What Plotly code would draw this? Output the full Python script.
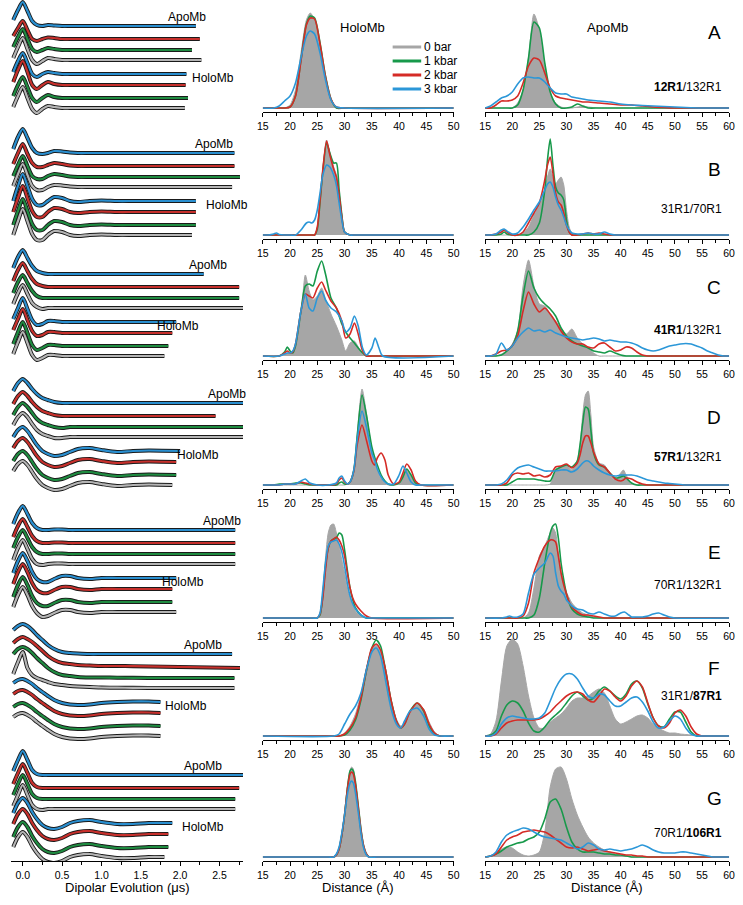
import numpy as np
import plotly.graph_objects as go

W, H = 743, 905
FONT = "Arial, Liberation Sans, sans-serif"

# ---------------- colours / labels ----------------
pressures = ["0 bar", "1 kbar", "2 kbar", "3 kbar"]
row_letters = ["A", "B", "C", "D", "E", "F", "G"]
pair_labels = ["<b>12R1</b>/132R1", "31R1/70R1", "<b>41R1</b>/132R1", "<b>57R1</b>/132R1",
               "70R1/132R1", "31R1/<b>87R1</b>", "70R1/<b>106R1</b>"]

# ---------------- HoloMb distance distributions (middle column) ----------------
holo_A_r = [15, 17, 18, 19, 20, 21, 22, 23, 23.7, 24.5, 25.5, 26.5, 27.5, 28.5, 30, 50]
holo_A_0 = [0, 0, 0, 0, 3, 18, 55, 88, 95, 88, 62, 30, 8, 0, 0, 0]
holo_A_1 = [0, 0, 0, 0, 1, 12, 48, 84, 92, 90, 65, 32, 9, 0, 0, 0]
holo_A_2 = [0, 0, 0, 0, 1, 12, 47, 83, 90, 89, 64, 31, 9, 1, 0, 0]
holo_A_3 = [0, 0, 2, 7, 12, 25, 50, 72, 77, 74, 55, 28, 8, 1, 0, 0]

holo_B_r = [15, 16, 17, 17.5, 18, 19, 20, 21, 22, 23, 23.5, 24, 24.5, 25, 25.5, 26, 26.7, 27.3, 28, 28.5, 29, 29.5, 30, 31, 32, 50]
holo_B_0 = [0] * 13 + [8, 35, 65, 95, 82, 68, 60, 40, 20, 3] + [0, 0, 0]
holo_B_1 = [0] * 13 + [6, 33, 63, 92, 82, 72, 72, 45, 20, 3] + [0, 0, 0]
holo_B_2 = [0] * 13 + [8, 35, 65, 94, 80, 66, 58, 40, 18, 3] + [0, 0, 0]
holo_B_3 = [0, 0, 1, 2, 0.5, 0, 0, 0, 5, 12, 13, 12, 15, 25, 42, 60, 70, 68, 60, 50, 32, 15, 3, 0, 0, 0]

holo_C_r = [15, 18, 19, 19.5, 20, 20.5, 21, 22, 22.8, 23.5, 24.2, 25, 25.8, 26.5, 27.5, 28.5, 29.5, 30.2, 31, 31.8, 32.5, 33.3, 34, 35, 35.6, 36.3, 37, 50]
holo_C_0 = [0, 0, 1, 3, 3, 5, 10, 40, 81, 65, 56, 60, 68, 57, 42, 30, 16, 5, 13, 15, 9, 2, 0, 0, 0, 0, 0, 0]
holo_C_1 = [0, 0, 4, 9, 5, 3, 10, 45, 70, 72, 70, 85, 95, 82, 58, 48, 32, 24, 18, 13, 8, 3, 0, 0, 0, 0, 0, 0]
holo_C_2 = [0, 0, 3, 5, 3, 4, 12, 45, 62, 60, 58, 68, 74, 66, 55, 48, 35, 18, 22, 33, 22, 5, 0, 0, 0, 0, 0, 0]
holo_C_3 = [0, 0, 2, 3, 3, 5, 12, 45, 62, 48, 45, 58, 65, 56, 48, 44, 35, 24, 28, 40, 30, 8, 1, 8, 18, 8, 0, 0]

holo_D_r = [15, 17, 18, 19, 20, 21, 22, 22.8, 23.6, 25, 27, 28.5, 29, 29.5, 30, 30.5, 31, 31.7, 32.3, 33.2, 34, 35, 35.5, 36, 36.7, 37.4, 38, 39, 40, 40.7, 41.4, 42.2, 43, 44, 50]
holo_D_0 = [0, 0, 0, 0, 0, 0, 0, 0, 0, 0, 0, 0, 0, 0, 0, 1, 3, 15, 50, 96, 72, 35, 25, 15, 6, 2, 0, 0, 3, 10, 16, 9, 2, 0, 0]
holo_D_1 = [0, 0, 1, 1, 1, 2, 2, 1, 0, 0, 0, 0, 2, 3, 1, 1, 3, 15, 48, 90, 70, 38, 28, 20, 10, 4, 1, 0, 2, 8, 16, 10, 2, 0, 0]
holo_D_2 = [0, 0, 0, 1, 1, 1, 3, 2, 1, 0, 0, 1, 5, 7, 3, 1, 3, 14, 40, 60, 45, 24, 20, 27, 32, 25, 10, 1, 3, 12, 21, 15, 4, 0, 0]
holo_D_3 = [0, 0, 0, 1, 1, 1, 4, 6, 2, 0, 0, 2, 7, 9, 4, 1, 3, 15, 45, 74, 58, 32, 25, 16, 8, 3, 1, 1, 10, 19, 12, 3, 0, 0, 0]

holo_E_r = [15, 24, 25, 25.5, 26, 26.5, 27, 27.5, 28, 28.5, 29, 29.5, 30, 30.5, 31, 31.5, 32, 33, 34, 35, 50]
holo_E_0 = [0, 0, 0, 5, 25, 60, 85, 93, 94, 85, 72, 58, 45, 30, 20, 12, 7, 2, 0, 0, 0]
holo_E_1 = [0, 0, 0, 3, 22, 52, 70, 77, 79, 80, 85, 83, 68, 48, 30, 18, 10, 3, 0, 0, 0]
holo_E_2 = [0, 0, 0, 4, 20, 48, 70, 77, 79, 81, 78, 72, 62, 45, 30, 20, 14, 7, 2, 0, 0]
holo_E_3 = [0, 0, 0, 5, 28, 55, 72, 76, 77, 78, 74, 66, 52, 35, 22, 14, 9, 3, 0, 0, 0]

holo_F_r = [15, 28, 29, 30, 31, 32, 33, 34, 35, 35.8, 36.6, 37.5, 38.5, 39.5, 40.3, 41, 42, 43.3, 44.5, 45.5, 46.5, 47.5, 50]
holo_F_0 = [0, 0, 0, 3, 10, 22, 42, 68, 86, 91, 85, 68, 38, 17, 10, 12, 22, 32, 27, 14, 4, 0, 0]
holo_F_1 = [0, 0, 0, 1, 6, 16, 36, 65, 88, 96, 90, 66, 36, 15, 8, 12, 25, 33, 25, 10, 2, 0, 0]
holo_F_2 = [0, 0, 0, 2, 8, 18, 38, 66, 88, 92, 86, 66, 36, 15, 8, 12, 24, 33, 26, 12, 3, 0, 0]
holo_F_3 = [0, 0, 2, 12, 22, 30, 43, 66, 84, 88, 80, 56, 28, 12, 8, 15, 25, 28, 20, 7, 1, 0, 0]

holo_G_r = [15, 27, 28, 28.5, 29, 29.5, 30, 30.5, 31, 31.3, 31.6, 32, 32.5, 33, 33.5, 34, 34.5, 36, 50]
holo_G_0 = [0, 0, 0, 3, 10, 25, 45, 70, 87, 90, 88, 75, 50, 25, 10, 3, 0, 0, 0]
holo_G_1 = [0, 0, 0, 2, 8, 22, 42, 68, 86, 88, 86, 75, 52, 28, 11, 3, 0, 0, 0]
holo_G_2 = [0, 0, 0, 2, 8, 22, 42, 67, 83, 85, 83, 72, 50, 27, 11, 3, 0, 0, 0]
holo_G_3 = [0, 0, 0, 3, 10, 24, 42, 62, 74, 76, 74, 64, 45, 24, 9, 2, 0, 0, 0]

# ---------------- ApoMb distance distributions (right column) ----------------
apo_A_r = list(range(15, 35)) + [36, 38, 40, 42, 44, 46, 48, 50, 52, 55, 60]
apo_A_0 = [0, 0, 0, 0, 0, 0, 5, 18, 50, 94, 78, 40, 15, 5, 1, 0, 0, 1, 2, 1] + [0] * 11
apo_A_1 = [0, 0, 0, 0, 0, 0, 3, 18, 50, 86, 80, 45, 16, 4, 0, 0, 1, 4, 2, 0] + [0] * 11
apo_A_2 = [0, 0, 3, 7, 7, 8, 12, 25, 42, 50, 48, 35, 20, 12, 10, 9, 8, 7, 6, 6] + [5, 4, 3, 3, 2, 1, 0.5, 0, 0, 0, 0]
apo_A_3 = [0, 2, 6, 10, 12, 16, 24, 30, 31, 30, 30, 26, 20, 15, 14, 14, 11, 10, 9, 8] + [7, 6, 4, 3, 2.5, 2, 1.5, 1, 0.5, 0, 0]

apo_B_r = [15, 16, 17, 18, 18.5, 19, 20, 21, 22, 23, 24, 25, 26, 26.5, 27, 27.5, 28, 28.5, 29, 29.5, 30, 30.5, 31, 32, 33, 34, 35, 36, 37, 38, 39, 40, 60]
apo_B_0 = [0, 0, 0, 0, 0, 0, 0, 0, 2, 8, 20, 30, 45, 58, 66, 58, 51, 55, 58, 50, 25, 8, 2, 0, 0, 0, 0, 0, 0, 0, 0, 0, 0]
apo_B_1 = [0, 0, 0, 1, 3, 1, 0, 0, 0, 0, 3, 12, 45, 75, 96, 70, 48, 42, 40, 35, 15, 3, 0, 0, 0, 0, 0, 0, 0, 0, 0, 0, 0]
apo_B_2 = [0, 0, 1, 3, 5, 3, 0, 0, 3, 12, 22, 32, 55, 70, 78, 62, 42, 33, 30, 22, 10, 3, 0, 0, 1, 2, 1, 2, 1, 0, 0, 0, 0]
apo_B_3 = [0, 0, 1, 5, 6, 4, 1, 2, 8, 16, 25, 33, 45, 51, 53, 48, 38, 30, 25, 18, 10, 5, 2, 1, 1, 2, 1, 1, 3, 1, 0, 0, 0]

apo_C_r = list(range(15, 61))
apo_C_0 = [0, 0, 0, 2, 5, 12, 25, 70, 96, 70, 52, 50, 42, 35, 28, 22, 27, 18, 12, 8, 3] + [0] * 25
apo_C_1 = [0, 0, 0, 1, 5, 10, 25, 60, 85, 68, 58, 52, 47, 40, 28, 20, 15, 12, 10, 8, 5, 4, 3, 5, 3, 1, 0] + [0] * 19
apo_C_2 = [0, 0, 2, 5, 6, 10, 20, 45, 64, 52, 44, 48, 42, 34, 25, 18, 14, 12, 12, 9, 8, 12, 13, 9, 5, 6, 9, 8, 4, 1, 0] + [0] * 15
apo_C_3 = [0, 0, 2, 13, 6, 10, 18, 24, 28, 25, 26, 24, 26, 23, 21, 19, 18, 17, 16, 17, 18, 17, 15, 16, 15, 14, 14, 13, 11, 8, 6, 5, 6, 8, 10, 11, 12, 12.5, 12, 10, 8, 5, 3, 1, 0, 0]

apo_D_r = list(range(15, 33)) + [32.5, 33, 33.5, 34, 34.5, 35, 36, 37, 38, 39, 40, 40.5] + list(range(41, 51)) + [52, 55, 60]
apo_D_0 = [0] * 12 + [1, 15, 18, 20, 15, 25, 40, 70, 90, 94, 70, 38, 22, 20, 10, 5, 12, 15, 10, 1] + [0] * 8 + [0, 0, 0]
apo_D_1 = [0] * 5 + [3, 6, 6, 6, 6, 5, 4, 4, 15, 18, 20, 18, 24, 40, 62, 78, 76, 55, 32, 20, 18, 12, 7, 8, 9, 7, 2] + [0] * 8 + [0, 0, 0]
apo_D_2 = [0] * 4 + [2, 10, 12, 11, 12, 9, 10, 8, 10, 18, 19, 21, 17, 22, 30, 42, 49, 49, 42, 33, 21, 18, 12, 6, 4, 5, 7, 6, 3, 1] + [0] * 6 + [0, 0, 0]
apo_D_3 = [0] * 3 + [1, 5, 12, 17, 19, 20, 18, 16, 14, 14, 14, 15, 15, 13, 16, 19, 22, 24, 24, 22, 19, 15, 12, 10, 9, 10, 10, 10, 10, 9, 7, 5, 4, 3, 2, 1.5, 1, 0, 0, 0]

apo_E_r = [15, 18, 19, 19.5, 20, 21, 22, 23, 24, 25, 26, 27, 27.5, 28, 28.5, 29, 29.5, 30, 30.5, 31, 32, 33, 34, 35, 36, 37, 38, 39, 40, 40.7, 41.5, 42, 43, 44, 45, 46, 47, 48, 49, 50, 60]
apo_E_0 = [0, 0, 0, 0, 0, 0, 0, 5, 30, 62, 72, 85, 90, 85, 65, 45, 35, 26, 20, 15, 9, 5, 3, 1, 0, 0, 0, 0, 0, 0, 0] + [0] * 9 + [0]
apo_E_1 = [0, 0, 0, 0, 0, 0, 0, 0, 3, 20, 55, 85, 92, 94, 80, 55, 38, 24, 15, 9, 4, 2, 1, 0, 0, 0, 0, 0, 0, 0, 0] + [0] * 9 + [0]
apo_E_2 = [0, 0, 0, 0, 0, 0, 2, 15, 45, 60, 72, 78, 78, 76, 62, 45, 33, 24, 16, 11, 6, 3, 3, 2, 1, 0, 0, 0, 0, 0, 0] + [0] * 9 + [0]
apo_E_3 = [0, 0, 1, 2, 1, 1, 4, 25, 44, 50, 55, 65, 62, 45, 32, 27, 24, 18, 15, 12, 9, 8, 5, 4, 6, 4, 2, 2, 5, 6, 3, 1, 1, 1, 2, 4, 5, 3, 1, 0, 0]

apo_F_r = list(range(15, 61))
apo_F_0 = [0, 2, 15, 55, 90, 97, 92, 70, 40, 18, 8, 8, 14, 18, 22, 28, 35, 38, 38, 40, 44, 47, 43, 30, 17, 12, 14, 17, 20, 21, 18, 12, 8, 5, 3, 3, 2, 1.5, 1, 0.5, 0] + [0] * 5
apo_F_1 = [0, 1, 5, 20, 31, 35, 33, 25, 13, 5, 4, 9, 16, 21, 26, 33, 40, 44, 40, 36, 38, 45, 49, 45, 40, 37, 42, 52, 55, 48, 32, 18, 10, 9, 17, 24, 24, 14, 4, 0] + [0] * 6
apo_F_2 = [0, 0, 2, 8, 13, 15, 16, 16, 16, 16, 17, 20, 24, 30, 35, 40, 43, 44, 42, 36, 34, 40, 47, 45, 39, 35, 40, 50, 55, 49, 33, 18, 10, 8, 13, 23, 26, 20, 9, 2, 0] + [0] * 5
apo_F_3 = [0, 0, 3, 12, 18, 20, 19, 18, 17, 17, 18, 23, 35, 48, 57, 62, 62, 57, 48, 40, 38, 42, 41, 35, 30, 30, 34, 38, 39, 34, 25, 14, 8, 9, 15, 20, 17, 8, 2, 0] + [0] * 6

apo_G_r = list(range(15, 61))
apo_G_0 = [0, 1, 4, 8, 10, 9, 5, 2, 1, 2, 5, 25, 70, 88, 90, 78, 58, 42, 30, 20, 14, 10, 7, 5, 3, 2, 1, 0] + [0] * 18
apo_G_1 = [0, 1, 3, 6, 10, 12, 14, 15, 18, 20, 25, 38, 55, 58, 48, 30, 15, 8, 5, 5, 5, 4, 3, 3, 2, 2, 1, 0] + [0] * 18
apo_G_2 = [0, 1, 3, 10, 17, 20, 22, 25, 26, 27, 26, 25, 22, 18, 14, 10, 9, 10, 8, 6, 7, 8, 6, 5, 4, 3, 2, 2, 1, 1, 0] + [0] * 15
apo_G_3 = [0, 1, 5, 15, 22, 25, 27, 29, 28, 25, 22, 20, 19, 18, 17, 14, 11, 8, 10, 14, 12, 8, 7, 8, 7, 6, 7, 8, 10, 12, 10, 7, 5, 4, 4, 4, 5, 5, 4, 3, 2, 1, 0, 0, 0, 0]

# ---------------- DEER time traces (left column), signal above tail level ----------------
t_grid = [-0.12, -0.06, 0, 0.06, 0.12, 0.18, 0.25, 0.32, 0.4, 0.5, 0.6, 0.7, 0.85, 1.0, 1.2, 1.4, 1.6]
# order inside each group: 3 kbar (blue), 2 kbar (red), 1 kbar (green), 0 bar (gray)
A_apo_end = [2.2, 2.25, 2.15, 2.27]
A_holo_end = [2.08, 2.07, 2.1, 2.06]
A_apo_3 = [6, 16, 24, 15, 5, 1, 0, 1, 0.5, 0, 0, 0, 0, 0, 0, 0, 0, 0]
A_apo_2 = [3, 11, 18, 9, 0, -2, 0, 1.5, 1, 0, 0, 0, 0, 0, 0, 0, 0, 0]
A_apo_1 = [3, 13, 21, 11, 1, -2, 0, 2, 1, 0, 0, 0, 0, 0, 0, 0, 0, 0]
A_apo_0 = [2, 13, 22, 11, 0, -4, -1, 2, 1, 0, 0, 0, 0, 0, 0, 0, 0, 0]
A_holo_3 = [2, 13, 21, 11, 0, -3, 0, 2, 1, 0, 0, 0, 0, 0, 0, 0, 0, 0]
A_holo_2 = [3, 15, 24, 13, 0, -4, 0, 3, 1, 0, 0, 0, 0, 0, 0, 0, 0, 0]
A_holo_1 = [2, 13, 21, 11, 0, -4, 0, 3, 1, 0, 0, 0, 0, 0, 0, 0, 0, 0]
A_holo_0 = [1, 12, 21, 10, -1, -5, -1, 2, 1, 0, 0, 0, 0, 0, 0, 0, 0, 0]

B_apo_end = [2.69, 2.69, 2.76, 2.66]
B_holo_end = [2.2, 2.2, 2.2, 2.15]
B_apo_3 = [4, 16, 24, 15, 5, 0, -1, 0, 2, 1.5, 0.5, 0, 0, 0, 0, 0, 0, 0]
B_apo_2 = [2, 13, 22, 12, 3, -1, -1, 1, 3, 2, 0.5, 0, 0, 0, 0, 0, 0, 0]
B_apo_1 = [1, 12, 21, 11, 1, -2, -2, 1, 3, 2, 0.5, 0, 0, 0, 0, 0, 0, 0]
B_apo_0 = [1, 13, 23, 12, 1, -3, -3, 0, 2, 1.5, 0.5, 0, 0, 0, 0, 0, 0, 0]
B_holo_3 = [0, 15, 27, 15, 2, -4, -4, 0, 4, 3, 0, -1, 0, 0.5, 0, 0, 0, 0]
B_holo_2 = [0, 14, 26, 14, 1, -5, -5, 0, 4, 3, 0, -1, 0, 0.5, 0, 0, 0, 0]
B_holo_1 = [0, 14, 26, 14, 1, -5, -5, 0, 4, 3, 0, -1, 0, 0.5, 0, 0, 0, 0]
B_holo_0 = [0, 14, 26, 14, 1, -5, -5, 0, 4, 3, 0, -1, 0, 0.5, 0, 0, 0, 0]

C_apo_end = [2.3, 2.75, 2.75, 2.8]
C_holo_end = [1.95, 1.9, 1.85, 1.8]
C_apo_3 = [6, 17, 24, 16, 8, 3, 1, 0, 0, 0, 0, 0, 0, 0, 0, 0, 0, 0]
C_apo_2 = [6, 17, 24, 16, 8, 3, 1, 0, 0, 0, 0, 0, 0, 0, 0, 0, 0, 0]
C_apo_1 = [5, 16, 23, 15, 7, 2, 0, 0, 0, 0, 0, 0, 0, 0, 0, 0, 0, 0]
C_apo_0 = [4, 15, 23, 14, 5, 1, -1, 0, 0, 0, 0, 0, 0, 0, 0, 0, 0, 0]
C_holo_3 = [3, 14, 24, 13, 2, -3, -2, 1, 1, 0, 0, 0, 0, 0, 0, 0, 0, 0]
C_holo_2 = [3, 14, 24, 13, 2, -3, -2, 1, 1, 0, 0, 0, 0, 0, 0, 0, 0, 0]
C_holo_1 = [2, 14, 24, 13, 1, -4, -2, 1, 1, 0, 0, 0, 0, 0, 0, 0, 0, 0]
C_holo_0 = [2, 14, 24, 13, 1, -4, -2, 1, 1, 0, 0, 0, 0, 0, 0, 0, 0, 0]

D_apo_end = [2.8, 2.45, 2.8, 2.8]
D_holo_end = [2.0, 1.95, 1.95, 1.9]
D_apo_3 = [12, 20, 24, 20, 14, 9, 5, 3, 1, 0, 0, 0, 0, 0, 0, 0, 0, 0]
D_apo_2 = [12, 20, 24, 20, 14, 9, 5, 3, 1, 0, 0, 0, 0, 0, 0, 0, 0, 0]
D_apo_1 = [12, 20, 24, 20, 14, 8, 4, 2, 0, -1, 0, 0, 0, 0, 0, 0, 0, 0]
D_apo_0 = [12, 20, 24, 20, 13, 7, 3, 1, -1, -1, 0, 0, 0, 0, 0, 0, 0, 0]
D_holo_3 = [14, 21, 24, 20, 13, 6, 0, -3, -5, -4, -1, 2, 3, 1, -1, 0, 0.5, 0]
D_holo_2 = [14, 21, 24, 20, 13, 6, 0, -3, -5, -4, -1, 2, 3, 1, -1, 0, 0.5, 0]
D_holo_1 = [14, 21, 24, 20, 13, 6, 0, -3, -5, -4, -1, 2, 3, 1, -1, 0, 0.5, 0]
D_holo_0 = [14, 21, 24, 20, 13, 6, 0, -3, -5, -4, -1, 2, 3, 1, -1, 0, 0.5, 0]

E_apo_end = [2.7, 2.7, 2.7, 2.7]
E_holo_end = [1.95, 1.9, 1.9, 1.95]
E_apo_3 = [6, 17, 24, 16, 7, 2, 0, 0, 0.5, 0.5, 0, 0, 0, 0, 0, 0, 0, 0]
E_apo_2 = [6, 17, 24, 16, 7, 2, 0, 0, 0.5, 0.5, 0, 0, 0, 0, 0, 0, 0, 0]
E_apo_1 = [6, 17, 24, 16, 7, 2, 0, 0, 0.5, 0.5, 0, 0, 0, 0, 0, 0, 0, 0]
E_apo_0 = [4, 16, 24, 15, 5, 0, -1, 0, 0.5, 0.5, 0, 0, 0, 0, 0, 0, 0, 0]
E_holo_3 = [5, 17, 25, 17, 6, -1, -4, -4, -1, 2, 2, 0, -1, 0, 0, 0, 0, 0]
E_holo_2 = [5, 17, 25, 17, 6, -1, -4, -4, -1, 2, 2, 0, -1, 0, 0, 0, 0, 0]
E_holo_1 = [5, 17, 25, 17, 6, -1, -4, -4, -1, 2, 2, 0, -1, 0, 0, 0, 0, 0]
E_holo_0 = [5, 17, 25, 17, 6, -1, -5, -4, -1, 2, 2, 0, -1, 0, 0, 0, 0, 0]

F_apo_end = [2.66, 2.76, 2.69, 2.69]
F_holo_end = [1.75, 1.75, 1.75, 1.75]
F_apo_3 = [24, 28, 30, 28, 24, 19, 14, 9, 5, 2, 1, 0.5, 0, 0, 0, 0, 0, 0]
F_apo_2 = [24, 28, 30, 28, 25, 21, 16, 11, 7, 4, 3, 2, 1.5, 1, 1, 0.8, 0.6, -1]
F_apo_1 = [24, 29, 31, 29, 25, 20, 15, 10, 6, 3, 2, 1, 0.5, 0.5, 0.3, 0.2, 0.1, 0]
F_apo_0 = [14, 26, 36, 20, 13, 10, 8, 6, 4, 3, 2, 1.5, 1, 0.5, 0.3, 0.2, 0.1, 0]
F_holo_3 = [19, 22, 23, 21, 18, 14, 10, 6, 2, -1, -2.5, -3, -2.5, -1, 0, 0.5, 0.5, 0]
F_holo_2 = [19, 22, 23, 21, 18, 14, 10, 6, 2, -1, -2.5, -3, -2.5, -1, 0, 0.5, 0.5, 0]
F_holo_1 = [19, 22, 23, 21, 18, 14, 10, 6, 2, -1, -2.5, -3, -2.5, -1, 0, 0.5, 0.5, 0]
F_holo_0 = [19, 22, 23, 21, 18, 14, 10, 6, 2, -1, -2.5, -3, -2.5, -1, 0, 0.5, 0.5, 0]

G_apo_end = [2.8, 2.75, 2.7, 2.7]
G_holo_end = [1.9, 1.85, 1.85, 1.8]
G_apo_3 = [4, 15, 24, 15, 5, 1, 0, 0, 0, 0, 0, 0, 0, 0, 0, 0, 0, 0]
G_apo_2 = [4, 15, 24, 15, 5, 1, 0, 0, 0, 0, 0, 0, 0, 0, 0, 0, 0, 0]
G_apo_1 = [4, 15, 24, 15, 5, 1, 0, 0, 0, 0, 0, 0, 0, 0, 0, 0, 0, 0]
G_apo_0 = [3, 14, 24, 14, 4, 0, -1, 0, 0, 0, 0, 0, 0, 0, 0, 0, 0, 0]
G_holo_3 = [10, 20, 25, 20, 11, 4, -2, -5, -6, -4, 0, 2, 3, 1, -1, -1, 0, 0]
G_holo_2 = [10, 20, 25, 20, 11, 4, -2, -5, -6, -4, 0, 2, 3, 1, -1, -1, 0, 0]
G_holo_1 = [10, 20, 25, 20, 11, 4, -2, -5, -6, -4, 0, 2, 3, 1, -1, -1, 0, 0]
G_holo_0 = [10, 20, 25, 20, 11, 4, -2, -5, -6, -4, 0, 2, 3, 1, -1, -1, 0, 0]

# =================== layout constants (pixels) ===================
DIST_COLORS = ["#a6a6a6", "#17994a", "#d52b26", "#2b97d8"]
TRACE_COLORS = ["#b4b4b4", "#1f8c41", "#c7302c", "#2a8fd0"]
ROW_AXIS = [112, 239, 360, 489, 622, 740, 861]       # y pixel of x-axis line per row
LEFT_ROW_SHIFT = [0, 0, 0, 0, -6, 0, 0]
MID_X = (261, 455)
RIGHT_X = (487, 735)
LEFT_X = (5, 241)
LEFT_AXIS_Y = 861
TAIL_OFF_APO = [-86, -73, -62, -52]
TAIL_OFF_HOLO = [-38, -27, -14, -4]
LETTER_Y = [33, 170, 287, 417, 552, 668, 798]
PAIR_Y = [87, 209, 330, 457, 585, 696, 833]


def fx(px):
    return px / W


def fy(py):
    return 1 - py / H


G = globals()
fig = go.Figure()
layout = dict(width=W, height=H, margin=dict(l=0, r=0, t=0, b=0),
              paper_bgcolor="white", plot_bgcolor="rgba(0,0,0,0)", showlegend=False,
              font=dict(family=FONT, color="black"))
annotations = []
shapes = []


def xaxis_style(rng, domain, anchor):
    return dict(domain=domain, range=rng, anchor=anchor, showline=True, linecolor="black",
                linewidth=1, ticks="outside", ticklen=4, tickwidth=1, tickcolor="black",
                tick0=15, dtick=5, showgrid=False, zeroline=False,
                tickfont=dict(size=10.5, family=FONT, color="black"),
                minor=dict(ticks="outside", ticklen=2.5, dtick=2.5, tick0=15, tickcolor="black", showgrid=False))


ax = 2
for r, L in enumerate(row_letters):
    ybot = ROW_AXIS[r]
    ydom = [fy(ybot), fy(ybot - 104)]
    for col, (prefix, xpx, xr) in enumerate([("holo", MID_X, [15, 50]), ("apo", RIGHT_X, [15, 60])]):
        xn, yn = f"x{ax}", f"y{ax}"
        layout[f"xaxis{ax}"] = xaxis_style(xr, [fx(xpx[0]), fx(xpx[1])], yn)
        layout[f"yaxis{ax}"] = dict(domain=ydom, range=[-4, 100], anchor=xn, visible=False, fixedrange=True)
        grid = G[f"{prefix}_{L}_r"]
        for p in range(4):
            vals = G[f"{prefix}_{L}_{p}"]
            if p == 0:
                fig.add_trace(go.Scatter(x=grid, y=vals, xaxis=xn, yaxis=yn, mode="lines",
                                         line=dict(color=DIST_COLORS[0], width=1, shape="spline", smoothing=0.7),
                                         fill="tozeroy", fillcolor=DIST_COLORS[0], hoverinfo="skip"))
            else:
                fig.add_trace(go.Scatter(x=grid, y=vals, xaxis=xn, yaxis=yn, mode="lines",
                                         line=dict(color=DIST_COLORS[p], width=1.6, shape="spline", smoothing=0.7),
                                         hoverinfo="skip"))
        ax += 1

# left column: single panel of stacked traces
layout["xaxis"] = dict(domain=[fx(LEFT_X[0]), fx(LEFT_X[1])], range=[-0.15, 2.8], anchor="y",
                       showline=True, linecolor="black", linewidth=1, ticks="outside", ticklen=4,
                       tickcolor="black", tickvals=[0, 0.5, 1.0, 1.5, 2.0, 2.5],
                       ticktext=["0.0", "0.5", "1.0", "1.5", "2.0", "2.5"], showgrid=False, zeroline=False,
                       tickfont=dict(size=10.5, family=FONT, color="black"),
                       minor=dict(ticks="outside", ticklen=2.5, dtick=0.25, tick0=0, tickcolor="black", showgrid=False))
layout["yaxis"] = dict(domain=[fy(LEFT_AXIS_Y), 1], range=[-LEFT_AXIS_Y, 0], anchor="x", visible=False)

for r, L in enumerate(row_letters):
    for grp, offs in (("apo", TAIL_OFF_APO), ("holo", TAIL_OFF_HOLO)):
        ends = G[f"{L}_{grp}_end"]
        for i, p in enumerate([3, 2, 1, 0]):
            vals = G[f"{L}_{grp}_{p}"]
            tail = ROW_AXIS[r] + LEFT_ROW_SHIFT[r] + offs[i]
            t = t_grid + [ends[i]]
            y = [-tail + v for v in vals]
            fig.add_trace(go.Scatter(x=t, y=y, xaxis="x", yaxis="y", mode="lines",
                                     line=dict(color="#1a1a1a", width=4, shape="spline", smoothing=0.8),
                                     hoverinfo="skip"))
            fig.add_trace(go.Scatter(x=t, y=y, xaxis="x", yaxis="y", mode="lines",
                                     line=dict(color=TRACE_COLORS[p], width=2.2, shape="spline", smoothing=0.8),
                                     hoverinfo="skip"))


def text(x, y, s, size, anchor="center"):
    annotations.append(dict(x=fx(x), y=fy(y), xref="paper", yref="paper", text=s, showarrow=False,
                            font=dict(size=size, family=FONT, color="black"), xanchor=anchor, yanchor="middle"))


# left labels
APO_LBL_X = [184, 211, 205, 225, 220, 200, 200]
HOLO_LBL_X = [210, 225, 175, 195, 180, 183, 200]
for r in range(7):
    text(APO_LBL_X[r], ROW_AXIS[r] + LEFT_ROW_SHIFT[r] - 95, "ApoMb", 12)
    text(HOLO_LBL_X[r], ROW_AXIS[r] + LEFT_ROW_SHIFT[r] - 34, "HoloMb", 12)

# panel letters and pair labels
for r in range(7):
    text(720, LETTER_Y[r], row_letters[r], 19)
    text(730, PAIR_Y[r], pair_labels[r], 12, anchor="right")

text(362, 28, "HoloMb", 13)
text(611, 28, "ApoMb", 13)

# legend
for k, p in enumerate([0, 1, 2, 3]):
    yy = 47 + 14 * k
    shapes.append(dict(type="line", xref="paper", yref="paper", x0=fx(393), x1=fx(422), y0=fy(yy), y1=fy(yy),
                       line=dict(color=DIST_COLORS[p], width=3)))
    text(423, yy, pressures[p], 12, anchor="left")

# axis titles
text(123, 887, "Dipolar Evolution (μs)", 13)
text(358, 887, "Distance (Å)", 13)
text(611, 887, "Distance (Å)", 13)

layout["annotations"] = annotations
layout["shapes"] = shapes
fig.update_layout(**layout)
fig.write_html("out.html", config={"displayModeBar": False, "staticPlot": True},
               post_script="document.body.style.margin='0px';document.body.style.padding='0px';"
                           "document.documentElement.style.overflow='hidden';")
